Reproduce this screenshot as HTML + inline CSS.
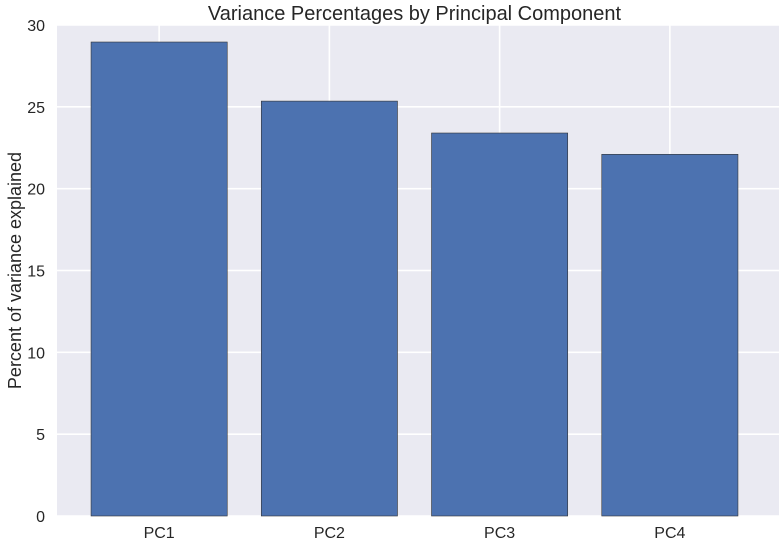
<!DOCTYPE html>
<html><head><meta charset="utf-8"><style>
html,body{margin:0;padding:0;background:#fff;}
svg{display:block;font-family:"Liberation Sans",sans-serif;}
</style></head><body>
<svg id="chart" width="779" height="550" xmlns="http://www.w3.org/2000/svg"></svg>
<script>
const categories = ["PC1","PC2","PC3","PC4"];
const values = [28.96, 25.35, 23.4, 22.1];
const yTicks = [0,5,10,15,20,25,30];

const L=57,R=772,T=25,B=516,ymax=30,xmin=-0.6,xmax=3.6;
const sx=v=>L+(v-xmin)/(xmax-xmin)*(R-L);
const sy=v=>B-v/ymax*(B-T);
const NS="http://www.w3.org/2000/svg";
const svg=document.getElementById('chart');
function mk(tag,attrs){const e=document.createElementNS(NS,tag);for(const k in attrs)e.setAttribute(k,attrs[k]);svg.appendChild(e);return e;}

const bg=mk('rect',{x:L,y:T,width:779-L,height:B-T,fill:'#eaeaf2'});



yTicks.forEach(t=>{
  const g=mk('line',{x1:L,x2:779,y1:sy(t),y2:sy(t),stroke:'#fff','stroke-width':1.6});
  
  
  const tx=mk('text',{x:L-12,y:sy(t)+6,'text-anchor':'end','font-size':16,fill:'#262626'});
  tx.textContent=t;
  
  
});
categories.forEach((c,i)=>{
  const g=mk('line',{x1:sx(i),x2:sx(i),y1:T,y2:B,stroke:'#fff','stroke-width':1.6});
  
  
});
categories.forEach((c,i)=>{
  const x0=sx(i-0.4),x1=sx(i+0.4);
  const b=mk('rect',{x:x0,y:sy(values[i]),width:x1-x0,height:B-sy(values[i]),fill:'#4c72b0',stroke:'#333','stroke-width':0.6});
  
  
  const tx=mk('text',{x:sx(i),y:B+22,'text-anchor':'middle','font-size':16,fill:'#262626'});
  tx.textContent=c;
  
  
});
const title=mk('text',{x:(L+R)/2,y:20,'text-anchor':'middle','font-size':20,fill:'#262626'});
title.textContent='Variance Percentages by Principal Component';


const yl=mk('text',{x:0,y:0,'text-anchor':'middle','font-size':18,fill:'#262626',transform:'translate(21,'+((T+B)/2)+') rotate(-90)'});
yl.textContent='Percent of variance explained';


</script>
</body></html>
